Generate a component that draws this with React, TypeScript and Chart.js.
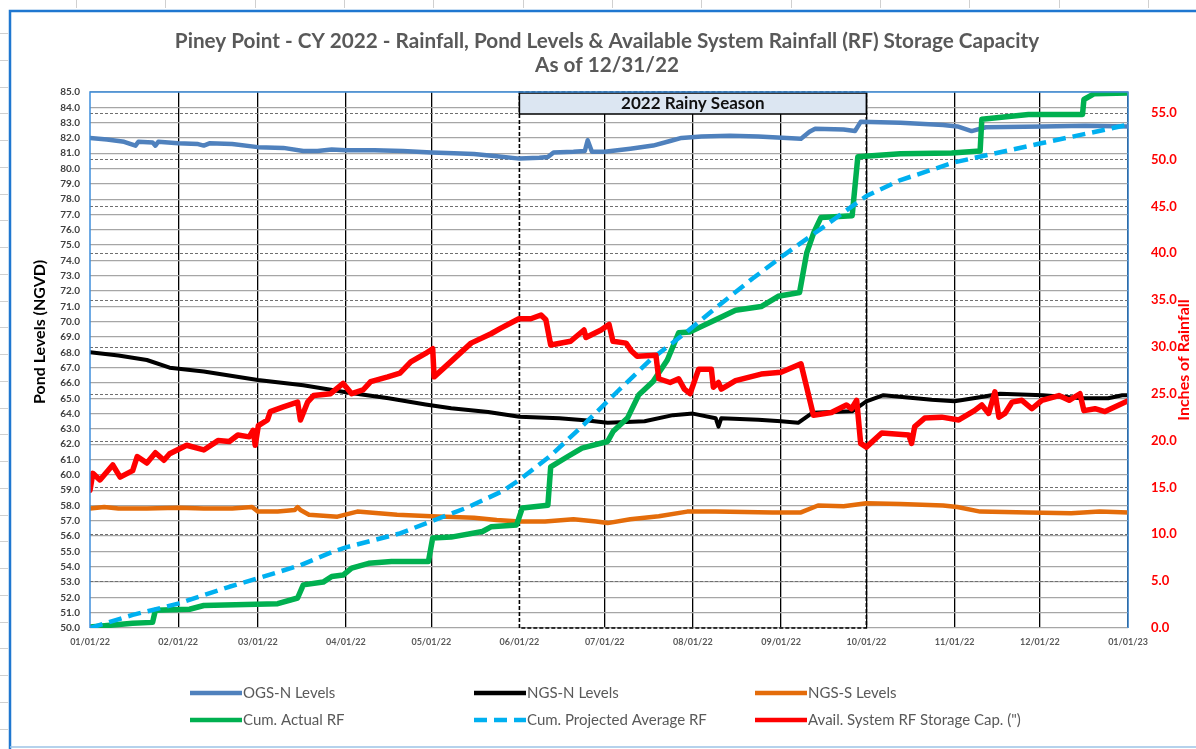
import React, { useEffect, useRef } from "react";
import { Chart, registerables } from "chart.js";

Chart.register(...registerables);

// ---- axis / label data ----
const TITLE_LINES = [
  "Piney Point - CY 2022 - Rainfall, Pond Levels & Available System Rainfall (RF) Storage Capacity",
  "As of 12/31/22",
];
const MONTH_DAYS = [0, 31, 59, 90, 120, 151, 181, 212, 243, 273, 304, 334, 365];
const MONTH_LABELS = [
  "01/01/22", "02/01/22", "03/01/22", "04/01/22", "05/01/22", "06/01/22", "07/01/22",
  "08/01/22", "09/01/22", "10/01/22", "11/01/22", "12/01/22", "01/01/23",
];
const LEFT_TICKS = [
  50, 51, 52, 53, 54, 55, 56, 57, 58, 59, 60, 61, 62, 63, 64, 65, 66, 67,
  68, 69, 70, 71, 72, 73, 74, 75, 76, 77, 78, 79, 80, 81, 82, 83, 84, 85,
];
const RIGHT_TICKS = [0, 5, 10, 15, 20, 25, 30, 35, 40, 45, 50, 55];
const RAINY_SEASON = { label: "2022 Rainy Season", start: 151, end: 273 };

// ---- series: [day of 2022, value] ----
const OGS_N: [number, number][] = [
  [0, 82.0], [6, 81.9], [12, 81.75], [16, 81.5], [17, 81.75], [22, 81.7], [23, 81.5], [24, 81.75],
  [31, 81.65], [38, 81.6], [40, 81.5], [42, 81.65], [50, 81.6], [59, 81.4], [68, 81.35], [75, 81.15],
  [80, 81.15], [85, 81.25], [90, 81.2], [100, 81.2], [110, 81.15], [120, 81.05], [128, 81.0],
  [135, 80.95], [143, 80.8], [151, 80.65], [158, 80.7], [161, 80.75], [163, 81.05], [170, 81.1],
  [174, 81.15], [175, 81.85], [176.5, 81.1], [181, 81.1], [190, 81.3], [198, 81.5], [204, 81.8],
  [208, 82.0], [215, 82.1], [225, 82.15], [235, 82.1], [245, 82.0], [250, 81.95], [253, 82.4],
  [255, 82.6], [265, 82.55], [269, 82.45], [271, 83.05], [285, 83.0], [300, 82.85], [305, 82.75],
  [310, 82.45], [315, 82.7], [335, 82.75], [350, 82.8], [365, 82.75],
];
const NGS_N: [number, number][] = [
  [0, 68.0], [10, 67.8], [20, 67.5], [28, 67.0], [40, 66.75], [59, 66.2], [75, 65.85], [90, 65.4],
  [105, 65.0], [118, 64.6], [127, 64.35], [140, 64.1], [151, 63.8], [165, 63.7], [175, 63.55],
  [182, 63.4], [195, 63.5], [205, 63.9], [212, 64.0], [220, 63.7], [221, 63.15], [222, 63.7],
  [235, 63.6], [243, 63.5], [249, 63.4], [254, 64.05], [268, 64.15], [273, 64.8], [279, 65.2],
  [296, 64.9], [304, 64.8], [314, 65.1], [320, 65.3], [335, 65.2], [349, 65.0], [358, 65.0],
  [363, 65.2], [365, 65.2],
];
const NGS_S: [number, number][] = [
  [0, 57.8], [5, 57.9], [10, 57.8], [20, 57.8], [31, 57.85], [40, 57.8], [50, 57.8], [57, 57.9],
  [59, 57.6], [66, 57.6], [72, 57.7], [73, 57.9], [74, 57.7], [77, 57.4], [87, 57.27], [94, 57.6],
  [108, 57.4], [120, 57.3], [135, 57.2], [143, 57.05], [151, 56.95], [160, 56.95], [170, 57.1],
  [178, 56.95], [182, 56.85], [190, 57.1], [200, 57.3], [210, 57.6], [220, 57.6], [240, 57.55],
  [250, 57.55], [256, 58.0], [265, 57.95], [273, 58.15], [285, 58.1], [300, 58.0], [305, 57.9],
  [313, 57.6], [330, 57.55], [345, 57.5], [355, 57.6], [365, 57.55],
];
const CUM_ACTUAL_RF: [number, number][] = [
  [0, 0.1], [15, 0.5], [22, 0.6], [23, 1.9], [35, 2.0], [40, 2.4], [66, 2.6], [73, 3.2], [75, 4.6],
  [82, 4.9], [85, 5.5], [89, 5.65], [92, 6.4], [98, 6.9], [106, 7.1], [119, 7.1], [120.5, 9.6],
  [127, 9.7], [138, 10.3], [141, 10.8], [150, 11.0], [152, 12.8], [161, 13.1], [162, 17.2],
  [168, 18.3], [173, 19.2], [182, 19.9], [184, 21.0], [189, 22.4], [193, 24.9], [198, 26.3],
  [203, 28.6], [207, 31.5], [211, 31.6], [220, 32.9], [227, 33.9], [236, 34.3], [242, 35.4],
  [249.5, 35.8], [252, 40.0], [254.5, 42.2], [257, 43.8], [268, 44.0], [270, 50.3], [285, 50.6],
  [303, 50.7], [313, 50.9], [313.6, 54.3], [330, 54.8], [349, 54.8], [349.5, 56.4], [353, 57.0],
  [365, 57.1],
];
const CUM_PROJECTED_RF: [number, number][] = [
  [0, 0], [15, 1.4], [31, 2.6], [49, 4.4], [59, 5.3], [74, 6.7], [85, 8.1], [90, 8.6], [109, 10.1],
  [121, 11.5], [133, 12.9], [145, 14.6], [151, 15.8], [162, 18.4], [174, 21.8], [186, 25.4],
  [197, 28.6], [209, 31.4], [221, 34.4], [233, 37.3], [244, 39.8], [257, 42.6], [273, 46.1],
  [285, 47.8], [304, 49.7], [334, 51.7], [365, 53.7],
];
const AVAIL_STORAGE: [number, number][] = [
  [0, 14.7], [1, 16.5], [3.5, 15.8], [8, 17.4], [10.6, 16.1], [15, 16.8], [16.6, 18.3], [20, 17.6],
  [23, 18.7], [26, 17.9], [28, 18.6], [34, 19.5], [40, 19.0], [45, 20.0], [49, 19.9], [52, 20.6],
  [56, 20.4], [57.4, 21.1], [58.1, 19.5], [59.2, 21.6], [62.4, 22.2], [63.4, 23.1], [68, 23.6],
  [73, 24.1], [74, 22.2], [76.5, 24.1], [78.6, 24.8], [84.6, 25.0], [89, 26.1], [92, 25.0],
  [96, 25.4], [98.7, 26.3], [104.7, 26.8], [109, 27.2], [112.8, 28.4], [118, 29.3], [120.5, 29.8],
  [121, 26.8], [126.8, 28.4], [134, 30.4], [141, 31.4], [144.5, 32.0], [150.8, 33.0], [155, 33.0],
  [158.6, 33.4], [160.3, 32.9], [162, 30.2], [169, 30.6], [173.7, 31.8], [174.4, 31.0],
  [179.7, 31.8], [182.5, 32.4], [183.9, 30.6], [188.5, 30.4], [190.3, 29.6], [192.4, 29.0],
  [199, 29.1], [200, 26.6], [204, 26.2], [207, 26.6], [209, 25.5], [211, 25.0], [214, 27.6],
  [218.5, 27.6], [219.2, 25.7], [221, 26.2], [222, 25.5], [227, 26.4], [236, 27.1], [243, 27.3],
  [250, 28.2], [252, 25.7], [254.4, 22.7], [260.7, 23.0], [266, 23.8], [267.8, 23.4], [269.6, 24.3],
  [271, 19.7], [273, 19.3], [278.4, 20.8], [287.9, 20.6], [288.9, 19.7], [290, 21.5], [293.5, 22.4],
  [299.5, 22.5], [305.5, 22.2], [311, 23.2], [313.6, 23.8], [316, 22.9], [318.2, 25.2],
  [319.6, 22.5], [321.7, 22.9], [324.2, 24.1], [327.7, 24.3], [331.2, 23.4], [334.7, 24.3],
  [340.7, 24.8], [344.3, 24.3], [348.1, 25.0], [349.5, 23.2], [353.4, 23.4], [356.9, 23.1],
  [360.5, 23.6], [364.7, 24.2],
];

const FONT = "Lato, 'Open Sans', sans-serif";

const toXY = (arr: [number, number][]) => arr.map(([x, y]) => ({ x, y }));

const decorPlugin = {
  id: "decor",
  beforeDatasetsDraw(chart: any) {
    const { ctx, chartArea: a, scales } = chart;
    const yR = scales.yR;
    const x = scales.x;
    ctx.save();
    // dashed grid lines of the rainfall axis
    ctx.strokeStyle = "#6f6f6f";
    ctx.lineWidth = 1;
    ctx.setLineDash([3, 2]);
    for (const t of RIGHT_TICKS) {
      if (t === 0) continue;
      const py = Math.round(yR.getPixelForValue(t)) + 0.5;
      ctx.beginPath();
      ctx.moveTo(a.left, py);
      ctx.lineTo(a.right, py);
      ctx.stroke();
    }
    // rainy season frame
    const x0 = x.getPixelForValue(RAINY_SEASON.start);
    const x1 = x.getPixelForValue(RAINY_SEASON.end);
    ctx.strokeStyle = "#000";
    ctx.lineWidth = 1.6;
    ctx.setLineDash([4, 2]);
    ctx.strokeRect(x0, a.top, x1 - x0, a.bottom - a.top);
    ctx.restore();
  },
  afterDatasetsDraw(chart: any) {
    const { ctx, chartArea: a, scales } = chart;
    const x = scales.x;
    const x0 = x.getPixelForValue(RAINY_SEASON.start);
    const x1 = x.getPixelForValue(RAINY_SEASON.end);
    ctx.save();
    ctx.fillStyle = "#dce6f2";
    ctx.fillRect(x0, a.top + 1, x1 - x0, 21);
    ctx.strokeStyle = "#000";
    ctx.lineWidth = 1.5;
    ctx.strokeRect(x0, a.top + 1, x1 - x0, 21);
    ctx.fillStyle = "#111";
    ctx.font = `bold 17px ${FONT}`;
    ctx.textAlign = "center";
    ctx.textBaseline = "middle";
    ctx.fillText(RAINY_SEASON.label, (x0 + x1) / 2, a.top + 12);
    ctx.restore();
  },
  afterDraw(chart: any) {
    const { ctx, chartArea: a } = chart;
    ctx.save();
    // plot area border
    ctx.strokeStyle = "#3f8fdc";
    ctx.lineWidth = 1.5;
    ctx.beginPath();
    ctx.moveTo(a.left, a.bottom);
    ctx.lineTo(a.left, a.top);
    ctx.lineTo(a.right, a.top);
    ctx.lineTo(a.right, a.bottom);
    ctx.stroke();

    // title
    ctx.fillStyle = "#595959";
    ctx.font = `bold 20.7px ${FONT}`;
    ctx.textAlign = "center";
    ctx.textBaseline = "middle";
    ctx.fillText(TITLE_LINES[0], 607, 41);
    ctx.fillText(TITLE_LINES[1], 607, 65);

    // axis titles
    ctx.save();
    ctx.translate(40, 332);
    ctx.rotate(-Math.PI / 2);
    ctx.fillStyle = "#000";
    ctx.font = `bold 16px ${FONT}`;
    ctx.fillText("Pond Levels (NGVD)", 0, 0);
    ctx.restore();
    ctx.save();
    ctx.translate(1184, (a.top + a.bottom) / 2);
    ctx.rotate(-Math.PI / 2);
    ctx.fillStyle = "#ff0000";
    ctx.font = `bold 16px ${FONT}`;
    ctx.fillText("Inches of Rainfall", 0, 0);
    ctx.restore();

    // legend (3 columns x 2 rows)
    const cols = [190, 474, 755];
    const rows = [693, 720];
    ctx.font = `15px ${FONT}`;
    ctx.textAlign = "left";
    chart.data.datasets.forEach((ds: any, i: number) => {
      const cx = cols[i % 3];
      const cy = rows[Math.floor(i / 3)];
      ctx.strokeStyle = ds.borderColor;
      ctx.lineWidth = 4.5;
      ctx.setLineDash(ds.borderDash || []);
      ctx.lineCap = "butt";
      ctx.beginPath();
      ctx.moveTo(cx, cy);
      ctx.lineTo(cx + 52, cy);
      ctx.stroke();
      ctx.setLineDash([]);
      ctx.fillStyle = "#595959";
      ctx.fillText(ds.label, cx + 53, cy);
    });

    // surrounding spreadsheet frame
    ctx.strokeStyle = "#d0d0d0";
    ctx.lineWidth = 1;
    for (let yy = 33; yy < 749; yy += 26.75) {
      ctx.beginPath();
      ctx.moveTo(0, Math.round(yy) + 0.5);
      ctx.lineTo(8, Math.round(yy) + 0.5);
      ctx.stroke();
    }
    for (let xx = 76; xx < 1196; xx += 89.33) {
      ctx.beginPath();
      ctx.moveTo(Math.round(xx) + 0.5, 0);
      ctx.lineTo(Math.round(xx) + 0.5, 8);
      ctx.stroke();
    }
    ctx.strokeStyle = "#1f77d0";
    ctx.lineWidth = 2.5;
    ctx.beginPath();
    ctx.moveTo(10, 749);
    ctx.lineTo(10, 11);
    ctx.lineTo(1196, 11);
    ctx.stroke();
    ctx.strokeStyle = "#9cc3e6";
    ctx.lineWidth = 1.5;
    ctx.beginPath();
    ctx.moveTo(10, 747);
    ctx.lineTo(1196, 747);
    ctx.stroke();
    ctx.restore();
  },
};

export default function App() {
  const ref = useRef<HTMLCanvasElement | null>(null);
  useEffect(() => {
    if (!ref.current) return;
    const line = (label: string, data: [number, number][], color: string, width: number, axis: string, order: number, dash?: number[]) => ({
      label,
      data: toXY(data),
      borderColor: color,
      backgroundColor: color,
      borderWidth: width,
      borderDash: dash,
      yAxisID: axis,
      pointRadius: 0,
      tension: 0,
      fill: false,
      borderJoinStyle: "round" as const,
      borderCapStyle: dash ? ("butt" as const) : ("round" as const),
      order,
    });
    const chart = new Chart(ref.current, {
      type: "line",
      data: {
        datasets: [
          line("OGS-N Levels", OGS_N, "#4f81bd", 4.5, "y", 6),
          line("NGS-N Levels", NGS_N, "#000000", 4, "y", 5),
          line("NGS-S Levels", NGS_S, "#e46c0a", 4.5, "y", 4),
          line("Cum. Actual RF", CUM_ACTUAL_RF, "#00b050", 5.5, "yR", 3),
          line("Cum. Projected Average RF", CUM_PROJECTED_RF, "#00b0f0", 4.5, "yR", 2, [13, 7]),
          line("Avail. System RF Storage Cap. (\")", AVAIL_STORAGE, "#ff0000", 5.5, "yR", 1),
        ],
      },
      options: {
        animation: false,
        responsive: false,
        devicePixelRatio: 1,
        layout: { padding: { top: 92, bottom: 91, left: 0, right: 0 } },
        plugins: { legend: { display: false }, title: { display: false }, tooltip: { enabled: false } },
        scales: {
          x: {
            type: "linear",
            min: 0,
            max: 365,
            afterBuildTicks: (s: any) => {
              s.ticks = MONTH_DAYS.map((v) => ({ value: v }));
            },
            afterFit: (s: any) => {
              s.height = 30;
            },
            ticks: {
              autoSkip: false,
              maxRotation: 0,
              padding: 9,
              color: "#595959",
              font: { family: FONT, size: 9, weight: "bold" },
              callback: (v: any) => MONTH_LABELS[MONTH_DAYS.indexOf(Number(v))] ?? "",
            },
            grid: {
              drawTicks: false,
              lineWidth: 1.3,
              color: (c: any) => {
                const v = c.tick ? c.tick.value : null;
                if (v === 0 || v === RAINY_SEASON.start) return "rgba(0,0,0,0)";
                return "#000000";
              },
            },
            border: { display: false },
          },
          y: {
            position: "left",
            min: 50,
            max: 85,
            afterBuildTicks: (s: any) => {
              s.ticks = LEFT_TICKS.map((v) => ({ value: v }));
            },
            afterFit: (s: any) => {
              s.width = 90;
            },
            ticks: {
              autoSkip: false,
              padding: 10,
              color: "#404040",
              font: { family: FONT, size: 10, weight: "bold" },
              callback: (v: any) => Number(v).toFixed(1),
            },
            grid: { drawTicks: false, color: "#a6a6a6", lineWidth: 1.3 },
            border: { display: false },
          },
          yR: {
            position: "right",
            min: 0,
            max: 57.2,
            afterBuildTicks: (s: any) => {
              s.ticks = RIGHT_TICKS.map((v) => ({ value: v }));
            },
            afterFit: (s: any) => {
              s.width = 68;
            },
            ticks: {
              autoSkip: false,
              padding: 15,
              color: "#ff0000",
              font: { family: FONT, size: 13, weight: "bold" },
              callback: (v: any) => Number(v).toFixed(1),
            },
            grid: { display: false },
            border: { display: false },
          },
        },
      },
      plugins: [decorPlugin],
    } as any);
    return () => chart.destroy();
  }, []);
  return (
    <div style={{ position: "absolute", left: 0, top: 0, width: 1196, height: 749, background: "#fff" }}>
      <canvas ref={ref} width={1196} height={749} style={{ display: "block" }} />
    </div>
  );
}
